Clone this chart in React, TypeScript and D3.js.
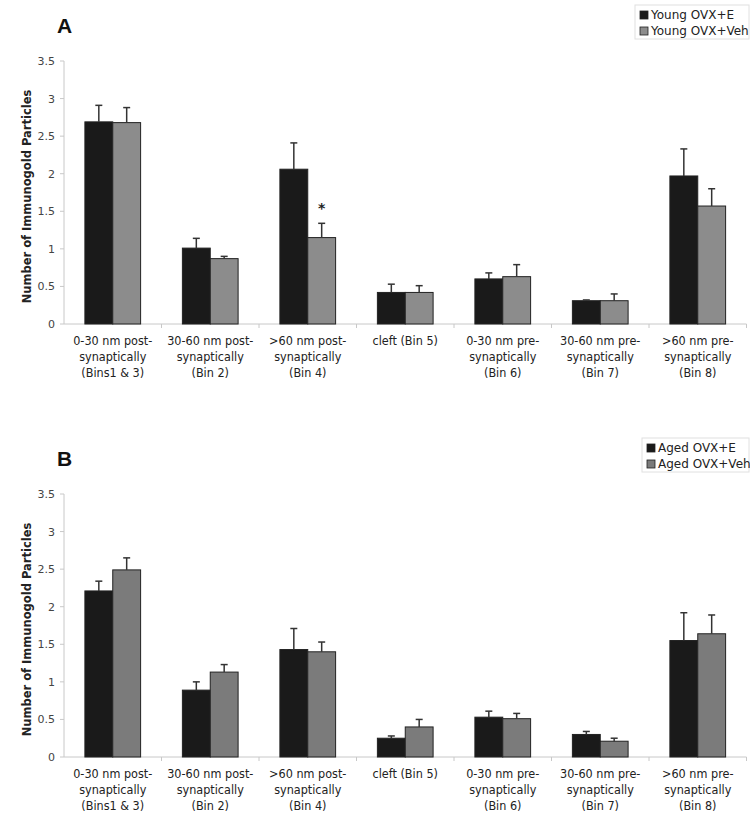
import React from 'react';
import * as d3 from 'd3';

// bin labels, one line per entry
const categories = [
  ['0-30 nm post-', 'synaptically', '(Bins1 & 3)'],
  ['30-60 nm post-', 'synaptically', '(Bin 2)'],
  ['>60 nm post-', 'synaptically', '(Bin 4)'],
  ['cleft (Bin 5)'],
  ['0-30 nm pre-', 'synaptically', '(Bin 6)'],
  ['30-60 nm pre-', 'synaptically', '(Bin 7)'],
  ['>60 nm pre-', 'synaptically', '(Bin 8)'],
];

const yTicks = [0, 0.5, 1, 1.5, 2, 2.5, 3, 3.5];

// panel A
const youngE = [2.69, 1.01, 2.06, 0.42, 0.6, 0.31, 1.97];
const youngESem = [0.22, 0.13, 0.35, 0.11, 0.08, 0.01, 0.36];
const youngVeh = [2.68, 0.87, 1.15, 0.42, 0.63, 0.31, 1.57];
const youngVehSem = [0.2, 0.03, 0.19, 0.09, 0.16, 0.09, 0.23];

// panel B
const agedE = [2.21, 0.89, 1.43, 0.25, 0.53, 0.3, 1.55];
const agedESem = [0.13, 0.11, 0.28, 0.03, 0.08, 0.04, 0.37];
const agedVeh = [2.49, 1.13, 1.4, 0.4, 0.51, 0.21, 1.64];
const agedVehSem = [0.16, 0.1, 0.13, 0.1, 0.07, 0.04, 0.25];

const tickFont = '"DejaVu Sans", Verdana, sans-serif';
const catFont = '"DejaVu Sans Condensed", "DejaVu Sans", sans-serif';

type PanelProps = {
  top: number;
  letter: string;
  legend: [string, string];
  legendX: number;
  vehColor: string;
  e: number[];
  eSem: number[];
  veh: number[];
  vehSem: number[];
  stars?: number[];
};

const Panel = ({ top, letter, legend, legendX, vehColor, e, eSem, veh, vehSem, stars = [] }: PanelProps) => {
  const left = 64;
  const right = 746.5;
  const plotTop = top + 61;
  const plotBottom = top + 324;

  const x = d3.scaleBand<number>().domain(categories.map((_, i) => i)).range([left, right]);
  const xs = d3.scaleBand<string>().domain(['E', 'Veh']).range([0, x.bandwidth()]).paddingOuter(0.75);
  const y = d3.scaleLinear().domain([0, 3.5]).range([plotBottom, plotTop]);

  const series = [
    { key: 'E', vals: e, sem: eSem, fill: '#1a1a1a' },
    { key: 'Veh', vals: veh, sem: vehSem, fill: vehColor },
  ];

  const axisColor = '#c8c8c8';

  return (
    <g>
      <text x={57} y={top + 33} fontFamily='"Liberation Sans", Arial, sans-serif' fontWeight="bold" fontSize={21} fill="#111">
        {letter}
      </text>

      {/* legend */}
      <g transform={`translate(${legendX},${top + 5})`}>
        <rect x={0} y={0} width={749 - legendX} height={34} fill="#fff" stroke="#e0e0e0" />
        {legend.map((lab, i) => (
          <g key={lab} transform={`translate(5,${i * 16})`}>
            <rect x={0} y={6} width={8} height={8} fill={series[i].fill} stroke="#222" strokeWidth={0.8} />
            <text x={11} y={14} fontFamily={tickFont} fontSize={12} fill="#222">
              {lab}
            </text>
          </g>
        ))}
      </g>

      {/* y axis */}
      <line x1={left} x2={left} y1={plotTop} y2={plotBottom} stroke={axisColor} />
      {yTicks.map((t) => (
        <g key={t}>
          <line x1={left - 4} x2={left} y1={y(t)} y2={y(t)} stroke={axisColor} />
          <text x={55} y={y(t) + 4} textAnchor="end" fontFamily={tickFont} fontSize={11} fill="#444">
            {t}
          </text>
        </g>
      ))}
      <text
        transform={`translate(31,${(plotTop + plotBottom) / 2 + 4}) rotate(-90)`}
        textAnchor="middle"
        fontFamily={tickFont}
        fontWeight="bold"
        fontSize={11.5}
        fill="#222"
      >
        Number of Immunogold Particles
      </text>

      {/* x axis */}
      <line x1={left} x2={right} y1={plotBottom} y2={plotBottom} stroke={axisColor} />
      {categories.map((_, i) => (
        <line key={i} x1={x(i)! + x.bandwidth()} x2={x(i)! + x.bandwidth()} y1={plotBottom} y2={plotBottom + 4} stroke={axisColor} />
      ))}
      {categories.map((lines, i) => (
        <text key={i} textAnchor="middle" fontFamily={catFont} fontSize={12.5} fill="#222">
          {lines.map((l, j) => (
            <tspan key={j} x={x(i)! + x.bandwidth() / 2} y={plotBottom + 21 + j * 16}>
              {l}
            </tspan>
          ))}
        </text>
      ))}

      {/* bars + error bars */}
      {series.map((s) => (
        <g key={s.key}>
          {s.vals.map((v, i) => {
            const bx = x(i)! + xs(s.key)!;
            const cx = bx + xs.bandwidth() / 2;
            const eTop = y(v + s.sem[i]);
            return (
              <g key={i}>
                <rect x={bx} y={y(v)} width={xs.bandwidth()} height={plotBottom - y(v)} fill={s.fill} stroke="#222" strokeWidth={1} />
                <line x1={cx} x2={cx} y1={y(v)} y2={eTop} stroke="#333" strokeWidth={1.5} />
                <line x1={cx - 3.5} x2={cx + 3.5} y1={eTop} y2={eTop} stroke="#333" strokeWidth={1.5} />
              </g>
            );
          })}
        </g>
      ))}

      {stars.map((i) => (
        <text
          key={i}
          x={x(i)! + xs('Veh')! + xs.bandwidth() / 2}
          y={y(veh[i] + vehSem[i]) - 10}
          textAnchor="middle"
          fontFamily={tickFont}
          fontWeight="bold"
          fontSize={14}
          fill="#222"
        >
          *
        </text>
      ))}
    </g>
  );
};

export default function App() {
  return (
    <div style={{ position: 'absolute', left: 0, top: 0 }}>
      <svg width={750} height={827} style={{ display: 'block', background: '#fff' }}>
        <Panel
          top={0}
          letter="A"
          legend={['Young OVX+E', 'Young OVX+Veh']}
          legendX={635}
          vehColor="#8c8c8c"
          e={youngE}
          eSem={youngESem}
          veh={youngVeh}
          vehSem={youngVehSem}
          stars={[2]}
        />
        <Panel
          top={433}
          letter="B"
          legend={['Aged OVX+E', 'Aged OVX+Veh']}
          legendX={642}
          vehColor="#7b7b7b"
          e={agedE}
          eSem={agedESem}
          veh={agedVeh}
          vehSem={agedVehSem}
        />
      </svg>
    </div>
  );
}
